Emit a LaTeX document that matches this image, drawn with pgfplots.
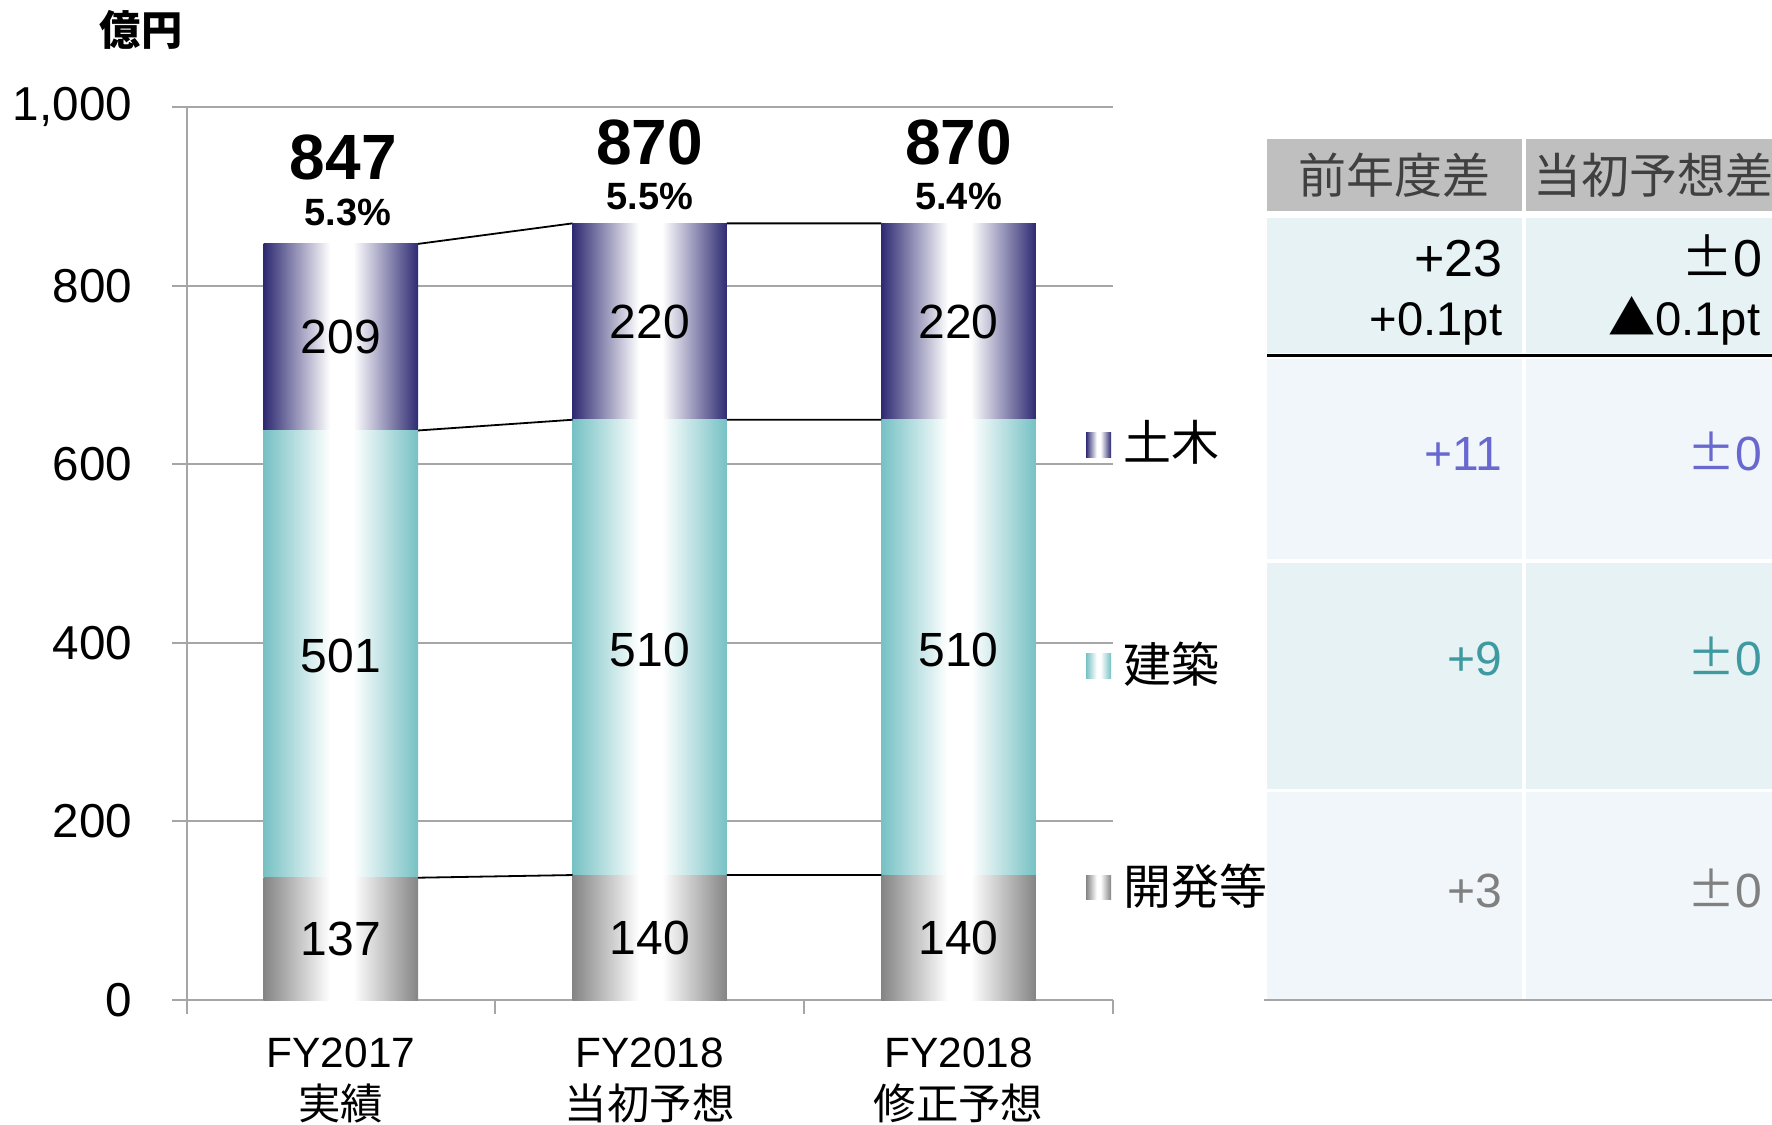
\documentclass[border=0pt]{standalone}
\usepackage{fontspec}
\setmainfont{Liberation Sans}
\newfontfamily\cjk{Noto Sans CJK JP}
\usepackage{pgfplots}
\pgfplotsset{compat=1.18}

\definecolor{cnavy}{RGB}{46,42,114}
\definecolor{cteal}{RGB}{118,193,196}
\definecolor{cgray}{RGB}{132,132,132}
\definecolor{gridgray}{RGB}{166,166,166}
\definecolor{hdrgray}{RGB}{191,191,191}
\definecolor{rowA}{RGB}{230,242,243}
\definecolor{rowB}{RGB}{240,246,249}
\definecolor{cpurple}{RGB}{104,104,208}
\definecolor{ctealtxt}{RGB}{62,154,160}
\definecolor{cgraytxt}{RGB}{128,128,128}
\definecolor{hdrtxt}{RGB}{64,64,64}

\pgfdeclarehorizontalshading{shnavy}{100bp}{color(0bp)=(cnavy); color(25bp)=(cnavy); color(46.5bp)=(white); color(54bp)=(white); color(75bp)=(cnavy); color(100bp)=(cnavy)}
\pgfdeclarehorizontalshading{shteal}{100bp}{color(0bp)=(cteal); color(25bp)=(cteal); color(46.5bp)=(white); color(54bp)=(white); color(75bp)=(cteal); color(100bp)=(cteal)}
\pgfdeclarehorizontalshading{shgray}{100bp}{color(0bp)=(cgray); color(25bp)=(cgray); color(46.5bp)=(white); color(54bp)=(white); color(75bp)=(cgray); color(100bp)=(cgray)}

\pgfplotsset{
  frame/.style={at={(46.625pt,-250pt)}, anchor=south west,
    scale only axis, width=231.625pt, height=223.175pt,
    xmin=-0.5, xmax=2.5, ymin=0, ymax=1000},
  barax/.style={frame, hide axis, ybar stacked, bar width=0.5},
}
\tikzset{
  seglab/.style={inner sep=0pt, font=\fontsize{12}{14}\selectfont},
  totlab/.style={inner sep=0pt, font=\bfseries\fontsize{16}{18}\selectfont},
  pctlab/.style={inner sep=0pt, font=\bfseries\fontsize{9.5}{11}\selectfont},
}

\begin{document}
\begin{tikzpicture}
\begin{scope}[x=0.25pt,y=-0.25pt]
\useasboundingbox (0,0) rectangle (1772,1124);
% table backgrounds
\fill[hdrgray] (1267,139) rectangle (1522,211);
\fill[hdrgray] (1526,139) rectangle (1781,211);
\fill[rowA] (1267,218) rectangle (1522,353);
\fill[rowA] (1526,218) rectangle (1781,353);
\fill[rowB] (1267,359) rectangle (1522,559);
\fill[rowB] (1526,359) rectangle (1781,559);
\fill[rowA] (1267,563) rectangle (1522,789);
\fill[rowA] (1526,563) rectangle (1781,789);
\fill[rowB] (1267,792) rectangle (1522,999);
\fill[rowB] (1526,792) rectangle (1781,999);
\draw[black, line width=0.7pt] (1267,355.5) -- (1781,355.5);
\draw[gridgray, line width=0.5pt] (1264,1000) -- (1781,1000);
% header
\node[font=\cjk\fontsize{12}{14}\selectfont, text=hdrtxt, inner sep=0pt] at (1394.5,175) {前年度差};
\node[font=\cjk\fontsize{12}{14}\selectfont, text=hdrtxt, inner sep=0pt] at (1653.5,175) {当初予想差};
% row totals
\node[anchor=base east, inner sep=0pt, font=\fontsize{13}{15}\selectfont] at (1503,276) {+23};
\node[anchor=base east, inner sep=0pt, font=\fontsize{11.8}{13}\selectfont] at (1503,335) {+0.1pt};
\node[anchor=base east, inner sep=0pt, font=\fontsize{13}{15}\selectfont] at (1763,276) {{\cjk ±}0};
\node[anchor=base east, inner sep=0pt, font=\fontsize{11.8}{13}\selectfont] at (1761,335) {{\cjk ▲}0.1pt};
% segment rows
\node[anchor=base east, inner sep=0pt, font=\fontsize{12}{14}\selectfont, text=cpurple] at (1503,470) {+11};
\node[anchor=base east, inner sep=0pt, font=\fontsize{12}{14}\selectfont, text=cpurple] at (1763,470) {{\cjk ±}0};
\node[anchor=base east, inner sep=0pt, font=\fontsize{12}{14}\selectfont, text=ctealtxt] at (1503,675) {+9};
\node[anchor=base east, inner sep=0pt, font=\fontsize{12}{14}\selectfont, text=ctealtxt] at (1763,675) {{\cjk ±}0};
\node[anchor=base east, inner sep=0pt, font=\fontsize{12}{14}\selectfont, text=cgraytxt] at (1503,907) {+3};
\node[anchor=base east, inner sep=0pt, font=\fontsize{12}{14}\selectfont, text=cgraytxt] at (1763,907) {{\cjk ±}0};
% legend
\shade[shading=shnavy] (1086,432) rectangle (1111,457);
\shade[shading=shteal] (1086,653) rectangle (1111,678);
\shade[shading=shgray] (1086,875) rectangle (1111,899);
\node[anchor=west, inner sep=0pt, font=\cjk\fontsize{12}{14}\selectfont] at (1123,442) {土木};
\node[anchor=west, inner sep=0pt, font=\cjk\fontsize{12}{14}\selectfont] at (1123,664) {建築};
\node[anchor=west, inner sep=0pt, font=\cjk\fontsize{12}{14}\selectfont] at (1123,886) {開発等};
% unit label
\node[inner sep=0pt, font=\cjk\bfseries\fontsize{10.3}{12}\selectfont] at (141,30) {億円};
\end{scope}

% frame, grid, ticks, category 0
\begin{axis}[
  frame,
  ybar stacked, bar width=0.5,
  axis x line*=bottom, axis y line*=left,
  axis line style={-, gridgray, line width=0.5pt},
  ytick={0,200,400,600,800,1000},
  ymajorgrids, grid style={gridgray, line width=0.5pt},
  tick align=outside, major tick length=3.6pt,
  tick style={gridgray, line width=0.5pt},
  xtick={-0.5,0.5,1.5,2.5}, xticklabels={\mbox{},\mbox{},\mbox{},\mbox{}},
  extra x ticks={0,1,2},
  extra x tick labels={{FY2017\\{\cjk 実績}},{FY2018\\{\cjk 当初予想}},{FY2018\\{\cjk 修正予想}}},
  extra x tick style={major tick length=0pt, grid=none},
  xticklabel style={align=center, font=\fontsize{10.6}{13.1}\selectfont, inner sep=0pt, yshift=-9.2pt},
  yticklabel style={font=\fontsize{11.9}{14}\selectfont, inner sep=0pt, xshift=-9.8pt},
  /pgf/number format/assume math mode=true,
  /pgf/number format/1000 sep={,},
]
\addplot[draw=none, shade, shading=shgray] coordinates {(0,137)};
\addplot[draw=none, shade, shading=shteal] coordinates {(0,501)};
\addplot[draw=none, shade, shading=shnavy] coordinates {(0,209)};
\end{axis}

% category 1
\begin{axis}[barax]
\addplot[draw=none, shade, shading=shgray] coordinates {(1,140)};
\addplot[draw=none, shade, shading=shteal] coordinates {(1,510)};
\addplot[draw=none, shade, shading=shnavy] coordinates {(1,220)};
\end{axis}

% category 2
\begin{axis}[barax]
\addplot[draw=none, shade, shading=shgray] coordinates {(2,140)};
\addplot[draw=none, shade, shading=shteal] coordinates {(2,510)};
\addplot[draw=none, shade, shading=shnavy] coordinates {(2,220)};
\end{axis}

% connecting lines and labels
\begin{axis}[frame, hide axis, unbounded coords=jump]
\addplot[black, line width=0.45pt, mark=none] coordinates {(0.25,137) (0.75,140) (1,nan) (1.25,140) (1.75,140)};
\addplot[black, line width=0.45pt, mark=none] coordinates {(0.25,638) (0.75,650) (1,nan) (1.25,650) (1.75,650)};
\addplot[black, line width=0.45pt, mark=none] coordinates {(0.25,847) (0.75,870) (1,nan) (1.25,870) (1.75,870)};
\node[seglab] at (axis cs:0,68.5) {137};
\node[seglab] at (axis cs:1,70) {140};
\node[seglab] at (axis cs:2,70) {140};
\node[seglab] at (axis cs:0,385) {501};
\node[seglab] at (axis cs:1,392) {510};
\node[seglab] at (axis cs:2,392) {510};
\node[seglab] at (axis cs:0,742.5) {209};
\node[seglab] at (axis cs:1,760) {220};
\node[seglab] at (axis cs:2,760) {220};
\node[totlab, yshift=21.6pt, xshift=0.6pt] at (axis cs:0,847) {847};
\node[pctlab, yshift=7.8pt, xshift=1.8pt] at (axis cs:0,847) {5.3\%};
\node[totlab, yshift=20.3pt] at (axis cs:1,870) {870};
\node[pctlab, yshift=6.8pt] at (axis cs:1,870) {5.5\%};
\node[totlab, yshift=20.3pt] at (axis cs:2,870) {870};
\node[pctlab, yshift=6.8pt] at (axis cs:2,870) {5.4\%};
\end{axis}
\end{tikzpicture}
\end{document}
